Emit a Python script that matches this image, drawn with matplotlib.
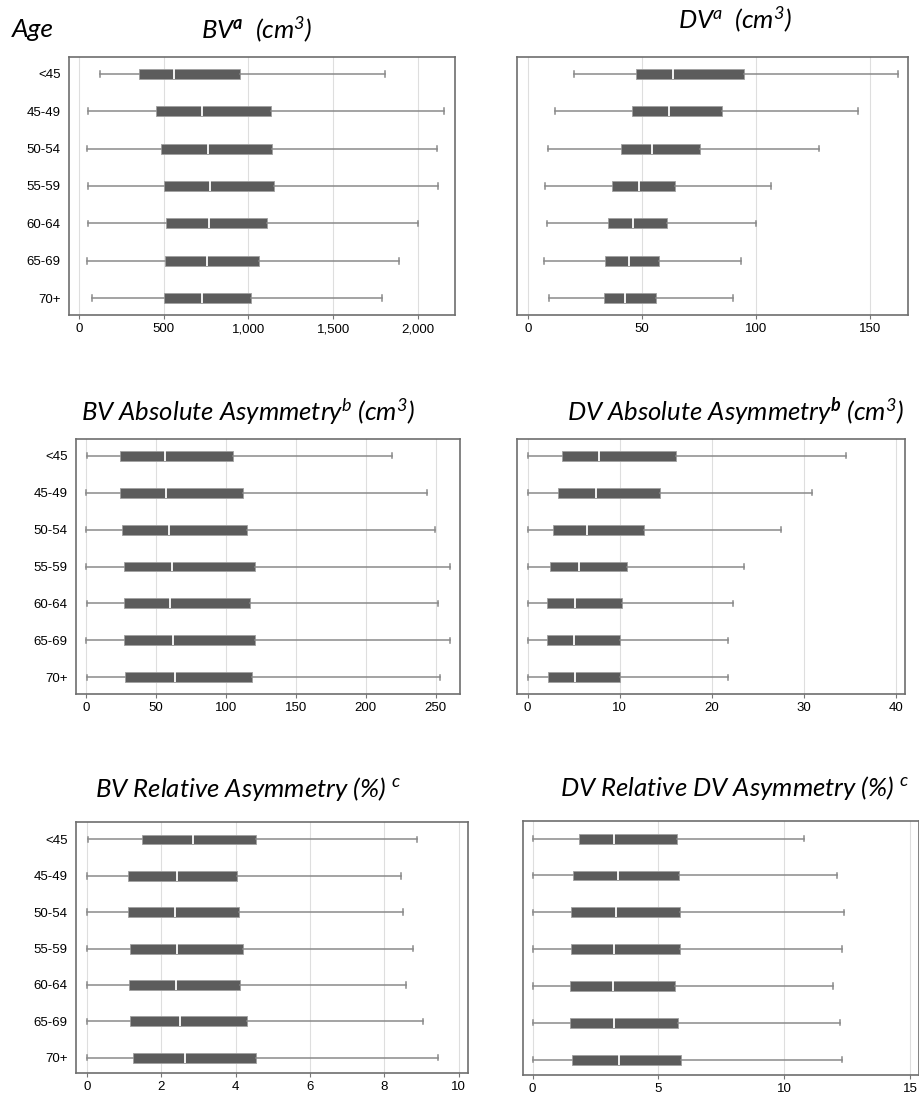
import numpy as np
import matplotlib as mpl
mpl.use('Agg')
import matplotlib.pyplot as plt

#--------------------------------------------
# data
ages = ['<45', '45-49', '50-54', '55-59', '60-64', '65-69', '70+']

bv_lo  = [124, 55, 45, 53, 53, 49, 75]
bv_q1  = [352, 451, 484, 500, 514, 508, 500]
bv_med = [563, 724, 762, 774, 768, 754, 724]
bv_q3  = [949, 1134, 1138, 1150, 1110, 1063, 1014]
bv_hi  = [1809, 2157, 2116, 2118, 2000, 1892, 1787]

dv_lo  = [20.3, 11.7, 8.6, 7.7, 8.2, 7.2, 9.2]
dv_q1  = [47.4, 45.5, 40.6, 36.7, 34.9, 33.9, 33.3]
dv_med = [63.6, 62.0, 54.2, 48.5, 46.2, 44.3, 42.7]
dv_q3  = [94.6, 85.1, 75.4, 64.6, 61.0, 57.7, 56.1]
dv_hi  = [162.4, 144.6, 127.6, 106.6, 100.1, 93.6, 89.9]

bva_lo  = [0.7, 0.0, 0.0, 0.0, 0.2, 0.0, 0.5]
bva_q1  = [24.3, 24.3, 25.5, 26.7, 26.7, 27.2, 27.9]
bva_med = [56.5, 57.0, 58.9, 61.5, 59.8, 62.2, 63.4]
bva_q3  = [105.3, 112.3, 115.1, 120.4, 116.8, 120.6, 118.9]
bva_hi  = [218.8, 244.0, 249.5, 260.5, 251.9, 260.0, 253.1]

dva_lo  = [0.07, 0.0, 0.0, 0.0, 0.0, 0.0, 0.0]
dva_q1  = [3.77, 3.33, 2.72, 2.39, 2.14, 2.10, 2.21]
dva_med = [7.75, 7.43, 6.45, 5.58, 5.18, 5.04, 5.18]
dva_q3  = [16.16, 14.38, 12.68, 10.80, 10.25, 10.04, 10.04]
dva_hi  = [34.6, 30.9, 27.5, 23.5, 22.3, 21.8, 21.8]

bvr_lo  = [0.02, 0.0, 0.0, 0.0, 0.0, 0.0, 0.0]
bvr_q1  = [1.48, 1.10, 1.11, 1.15, 1.14, 1.16, 1.24]
bvr_med = [2.86, 2.42, 2.36, 2.42, 2.39, 2.50, 2.65]
bvr_q3  = [4.55, 4.04, 4.08, 4.21, 4.11, 4.32, 4.54]
bvr_hi  = [8.88, 8.45, 8.51, 8.77, 8.59, 9.04, 9.43]

dvr_lo  = [0.03, 0.0, 0.0, 0.0, 0.0, 0.0, 0.0]
dvr_q1  = [1.85, 1.62, 1.54, 1.52, 1.47, 1.47, 1.58]
dvr_med = [3.24, 3.39, 3.32, 3.24, 3.18, 3.24, 3.44]
dvr_q3  = [5.75, 5.83, 5.88, 5.85, 5.65, 5.79, 5.90]
dvr_hi  = [10.79, 12.09, 12.38, 12.30, 11.93, 12.23, 12.30]

titles = [r'BV$^{\mathbf{a}}$  (cm$^{3}$)',
          r'DV$^{a}$  (cm$^{3}$)',
          r'BV Absolute Asymmetry$^{b}$ (cm$^{3}$)',
          r'DV Absolute Asymmetry$^{\mathbf{b}}$ (cm$^{3}$)',
          r'BV Relative Asymmetry (%) $^{c}$',
          r'DV Relative DV Asymmetry (%) $^{c}$']
#--------------------------------------------

W, H = 920, 1097
mpl.rcParams['font.family'] = 'Liberation Sans'
mpl.rcParams['mathtext.fontset'] = 'custom'
mpl.rcParams['mathtext.rm'] = 'Lato:italic'
mpl.rcParams['mathtext.it'] = 'Lato:italic'
mpl.rcParams['mathtext.bf'] = 'Lato:italic:bold'

fig = plt.figure(figsize=(W / 100, H / 100), dpi=100)

# panel boxes in pixels: left, right, top, bottom
boxes = [(69, 455, 57, 315), (517, 908, 57, 315),
         (76, 460, 439, 694), (517, 905, 439, 694),
         (76, 468, 822, 1073), (523, 919, 821, 1075)]
xlims = [(-60, 2220), (-4.8, 166.7), (-7.4, 267.4),
         (-1.16, 41.0), (-0.29, 10.25), (-0.38, 15.36)]
xticks = [[0, 500, 1000, 1500, 2000], [0, 50, 100, 150],
          [0, 50, 100, 150, 200, 250], [0, 10, 20, 30, 40],
          [0, 2, 4, 6, 8, 10], [0, 5, 10, 15]]
ylims = [(7.45, 0.55)] * 4 + [(7.42, 0.52)] * 2
# title anchor (center x, baseline y) in pixels
tpos = [(257, 38), (735, 28), (248, 421), (736, 421), (248, 797), (735, 796)]

series = [(bv_lo, bv_q1, bv_med, bv_q3, bv_hi),
          (dv_lo, dv_q1, dv_med, dv_q3, dv_hi),
          (bva_lo, bva_q1, bva_med, bva_q3, bva_hi),
          (dva_lo, dva_q1, dva_med, dva_q3, dva_hi),
          (bvr_lo, bvr_q1, bvr_med, bvr_q3, bvr_hi),
          (dvr_lo, dvr_q1, dvr_med, dvr_q3, dvr_hi)]

pos = np.arange(1, len(ages) + 1)

for i in range(6):
    l, r, t, b = boxes[i]
    ax = fig.add_axes([l / W, 1 - b / H, (r - l) / W, (b - t) / H])
    lo, q1, med, q3, hi = series[i]
    stats = [dict(whislo=lo[k], q1=q1[k], med=med[k], q3=q3[k],
                  whishi=hi[k], fliers=[]) for k in range(len(ages))]
    ax.bxp(stats, positions=pos, vert=False, widths=0.27, capwidths=0.15,
           patch_artist=True, showfliers=False,
           boxprops=dict(facecolor='#5c5c5c', edgecolor='#a0a0a0', linewidth=0.6),
           medianprops=dict(color='white', linewidth=1.3),
           whiskerprops=dict(color='#8a8a8a', linewidth=1.1),
           capprops=dict(color='#8a8a8a', linewidth=1.1))
    ax.set_xlim(xlims[i])
    ax.set_ylim(ylims[i])
    ax.set_xticks(xticks[i])
    if i == 0:
        ax.xaxis.set_major_formatter(mpl.ticker.StrMethodFormatter('{x:,.0f}'))
    ax.set_yticks(pos)
    if i % 2 == 0:
        ax.set_yticklabels(ages)
    else:
        ax.set_yticklabels([])
    ax.tick_params(axis='y', length=0, pad=6, labelsize=9.5)
    ax.tick_params(axis='x', length=3, width=0.8, color='#777777', labelsize=9.5, pad=3)
    ax.grid(axis='x', color='#dedede', linewidth=0.8)
    ax.set_axisbelow(True)
    for s in ax.spines.values():
        s.set_color('#6e6e6e')
        s.set_linewidth(1.2)

    cx, by = tpos[i]
    fig.text(cx / W, 1 - by / H, titles[i], family='Lato', style='italic',
             fontsize=18.5, ha='center', va='baseline')

fig.text(12 / W, 1 - 37 / H, 'Age', family='Lato', style='italic',
         fontsize=19, ha='left', va='baseline')

plt.savefig('out.png', dpi=100)
